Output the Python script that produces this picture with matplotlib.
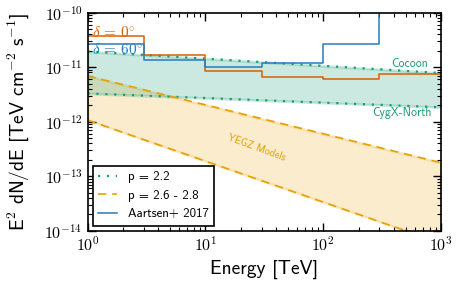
import numpy as np
import matplotlib
matplotlib.use("Agg")
import matplotlib.pyplot as plt
from matplotlib.ticker import FuncFormatter

plt.rcParams['font.family'] = ['cmss10', 'DejaVu Sans']
plt.rcParams['mathtext.fontset'] = 'cm'
plt.rcParams['axes.unicode_minus'] = True

# energy bins of the Aartsen+ 2017 sensitivity steps [TeV]
bin_edges = [1, 3, 10, 30, 100, 300, 1000]
aartsen_dec0 = [3.8e-11, 1.67e-11, 8.5e-12, 6.5e-12, 6.1e-12, 7.5e-12]
aartsen_dec60 = [2.65e-11, 1.36e-11, 1.02e-11, 1.17e-11, 2.7e-11, 3e-10]

# band end points at E = 1 and 1000 TeV
band_E = [1, 1000]
cocoon = [1.94e-11, 7.8e-12]
cygx_north = [3.3e-12, 1.84e-12]
yegz_hi = [6.9e-12, 1.77e-13]
yegz_lo_E = [1, 500]
yegz_lo = [1.07e-12, 1.0e-14]

green = '#1b9e77'
orange = '#d95f02'
gold = '#e6a100'
blue = '#2b7bba'

fig = plt.figure(figsize=(4.57, 2.87), dpi=100)
ax = fig.add_axes([0.1915, 0.196, 0.7735, 0.76])

E = np.logspace(0, 3, 200)
def pl(xs, ys, e):
    s = np.log(ys[1] / ys[0]) / np.log(xs[1] / xs[0])
    return ys[0] * (e / xs[0]) ** s

up_g = pl(band_E, cocoon, E)
lo_g = pl(band_E, cygx_north, E)
up_y = pl(band_E, yegz_hi, E)
lo_y = pl(yegz_lo_E, yegz_lo, E)

ax.fill_between(E, lo_y, up_y, color=gold, alpha=0.2, lw=2)
ax.fill_between(E, lo_g, up_g, color=green, alpha=0.22, lw=2)
ax.plot(E, up_g, color=green, ls=(0, (1, 3)), lw=1.6, label='p = 2.2')
ax.plot(E, lo_g, color=green, ls=(0, (1, 3)), lw=1.6)
ax.plot(E, up_y, color=gold, ls=(0, (5, 3.5)), lw=1.2, label='p = 2.6 - 2.8')
ax.plot(E, lo_y, color=gold, ls=(0, (5, 3.5)), lw=1.2)

ax.step(bin_edges, aartsen_dec0 + [aartsen_dec0[-1]], where='post', color=orange, lw=1.1)
ax.step(bin_edges, aartsen_dec60 + [aartsen_dec60[-1]], where='post', color=blue, lw=1.1,
        label='Aartsen+ 2017')

ax.text(1.1, 4.4e-11, r'$\delta\,=\,0^{\circ}$', color=orange, fontsize=11, va='center')
ax.text(1.1, 2.15e-11, r'$\delta\,=\,60^{\circ}$', color=blue, fontsize=11, va='center')
ax.text(770, 1.15e-11, 'Cocoon', color=green, fontsize=8.5, ha='right', va='center')
ax.text(830, 1.44e-12, 'CygX-North', color=green, fontsize=8.5, ha='right', va='center')
ax.text(27, 3.3e-13, 'YEGZ Models', color=gold, fontsize=7.5, ha='center', va='center',
        rotation=-20)

ax.set_xscale('log')
ax.set_yscale('log')
ax.set_xlim(1, 1000)
ax.set_ylim(1e-14, 1e-10)
pow_fmt = FuncFormatter(lambda v, pos: r'$10^{%d}$' % int(round(np.log10(v))))
ax.xaxis.set_major_formatter(pow_fmt)
ax.yaxis.set_major_formatter(pow_fmt)
ax.set_xlabel('Energy [TeV]', fontsize=14)
ax.set_ylabel(r'E$^2$ dN/dE [TeV cm$^{-2}$ s$^{-1}$]', fontsize=14)
ax.yaxis.set_label_coords(-0.16, 0.5)
ax.tick_params(which='both', direction='in', top=True, right=True, labelsize=11.5)
ax.tick_params(which='major', length=6, width=1)
ax.tick_params(which='minor', length=3, width=0.8)
for sp in ax.spines.values():
    sp.set_linewidth(1.2)

leg = ax.legend(loc='lower left', fontsize=9.3, handlelength=1.5, fancybox=False,
                framealpha=1, edgecolor='black', borderaxespad=0.4)
leg.get_frame().set_linewidth(1.2)

fig.savefig('out.png', dpi=100)
